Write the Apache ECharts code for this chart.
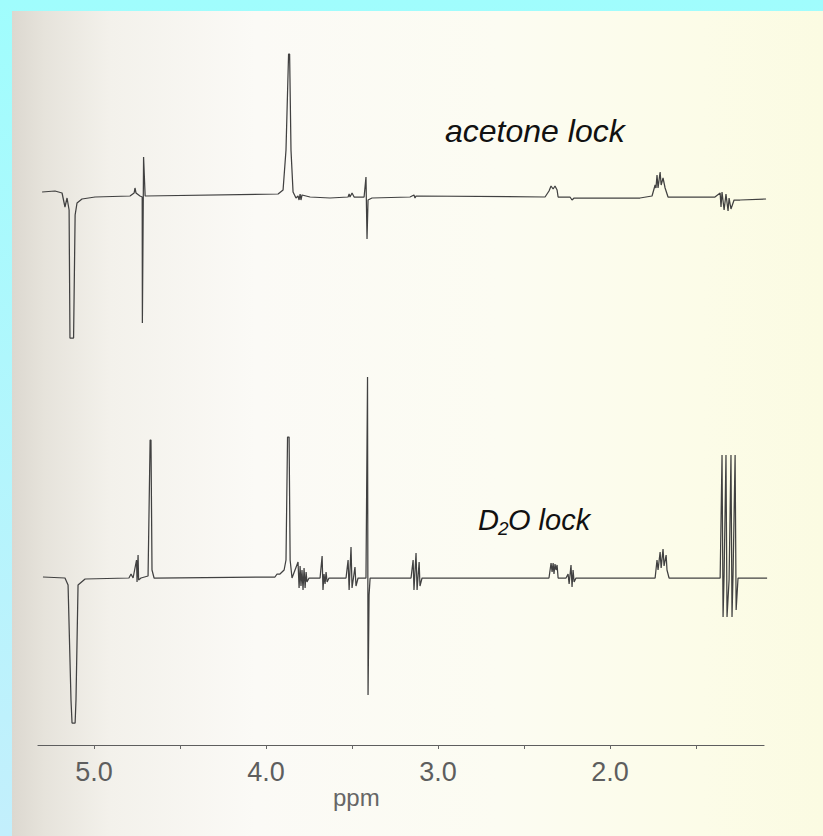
<!DOCTYPE html>
<html>
<head>
<meta charset="utf-8">
<script src="https://cdn.jsdelivr.net/npm/echarts@6/dist/echarts.min.js"></script>
<style>
html,body{margin:0;padding:0;background:#a3fcfd;}
#c{width:823px;height:836px;}
</style>
</head>
<body>
<div id="c"></div>
<script>
// ---- data (ppm, relative intensity) ----
var acetoneLock = [
[5.302,4],[5.227,5],[5.186,3],[5.169,-11],[5.157,-2],[5.145,-14],[5.140,-142],[5.119,-142],[5.110,-19],[5.099,-7],[5.070,-3],[4.994,-1],
[4.791,0],[4.767,3],[4.762,8],[4.756,3],[4.733,0],[4.720,-1],[4.719,-127],[4.712,39],[4.703,0],
[3.930,2],[3.901,6],[3.884,46],[3.869,142],[3.863,142],[3.855,46],[3.843,4],[3.826,-2],[3.814,0],[3.808,-4],[3.802,2],[3.797,-4],[3.791,1],[3.744,-1],
[3.628,-2],[3.523,-1],[3.517,2],[3.512,-1],[3.500,3],[3.488,-1],[3.430,-1],[3.419,19],[3.413,-43],[3.407,-4],[3.384,-2],
[3.163,-1],[3.140,1],[3.134,-2],[3.128,0],
[2.378,-1],[2.355,5],[2.343,10],[2.331,7],[2.320,10],[2.308,6],[2.302,-1],[2.233,-1],[2.221,-4],[2.209,-2],
[1.826,-2],[1.756,0],[1.738,11],[1.733,8],[1.727,21],[1.721,8],[1.709,24],[1.703,11],[1.692,18],[1.680,8],[1.663,-1],
[1.390,-1],[1.360,3],[1.355,-11],[1.349,4],[1.337,-14],[1.326,2],[1.314,-15],[1.308,-2],[1.297,-13],[1.279,-4],[1.244,-4],[1.093,-3]
];
var d2oLock = [
[5.297,1],[5.169,0],[5.151,-7],[5.134,-122],[5.128,-145],[5.110,-145],[5.105,-122],[5.093,-7],[5.052,-1],
[4.797,0],[4.785,4],[4.773,0],[4.753,18],[4.750,-4],[4.744,23],[4.741,-2],[4.727,0],[4.686,2],[4.674,138],[4.669,138],[4.663,8],[4.651,0],
[3.948,1],[3.936,4],[3.919,4],[3.907,6],[3.895,8],[3.884,18],[3.875,141],[3.866,141],[3.860,18],[3.849,0],
[3.814,16],[3.808,-10],[3.802,12],[3.797,-8],[3.791,8],[3.785,-12],[3.779,10],[3.773,-10],[3.767,6],[3.762,-4],[3.750,0],
[3.686,0],[3.674,22],[3.669,-12],[3.663,4],[3.657,-6],[3.651,6],[3.645,-4],[3.634,0],
[3.535,0],[3.523,18],[3.517,-12],[3.506,31],[3.500,-10],[3.483,11],[3.477,-8],[3.465,0],
[3.419,0],[3.410,201],[3.407,-117],[3.401,-17],[3.395,0],
[3.157,0],[3.145,18],[3.140,-12],[3.128,25],[3.122,-12],[3.110,16],[3.105,-8],[3.093,0],
[2.355,0],[2.343,15],[2.337,6],[2.331,15],[2.326,4],[2.320,14],[2.314,8],[2.308,13],[2.302,0],
[2.256,0],[2.244,4],[2.238,-6],[2.227,13],[2.221,-9],[2.215,8],[2.209,-4],[2.198,0],
[1.738,0],[1.727,18],[1.721,8],[1.709,26],[1.703,10],[1.692,29],[1.686,12],[1.674,23],[1.669,8],[1.657,0],
[1.360,0],[1.349,123],[1.343,-39],[1.337,3],[1.326,123],[1.320,-39],[1.308,-2],[1.297,123],[1.291,-39],[1.285,3],[1.273,123],[1.267,-32],[1.256,0],
[1.087,0]
];
var tickValues = [5.0,4.5,4.0,3.5,3.0,2.5,2.0,1.5];
var labelValues = [5.0,4.0,3.0,2.0];
var axisName = 'ppm';
var upperLabel = 'acetone lock';
var lowerLabelParts = ['D', '2', 'O lock'];

var chart = echarts.init(document.getElementById('c'), null, {renderer:'svg'});
var lineStyle = {color:'#414141', width:1.25};
var specX = {type:'value', inverse:true, min:1.08, max:5.32, show:false};
var labelFont = {fontFamily:'Liberation Sans', fontStyle:'italic', fontWeight:'normal', fill:'#111'};
var option = {
  animation:false,
  backgroundColor:'transparent',
  graphic:[
    {type:'rect', z:-20, shape:{x:0,y:0,width:823,height:836}, silent:true,
     style:{fill:new echarts.graphic.LinearGradient(0,0,0,1,[{offset:0,color:'#a0fdfd'},{offset:1,color:'#c3effc'}])}},
    {type:'rect', z:-19, shape:{x:12,y:11,width:811,height:825}, silent:true,
     style:{fill:new echarts.graphic.LinearGradient(0,0,1,0,[
       {offset:0,color:'#dcd8d0'},{offset:0.04,color:'#e6e3db'},{offset:0.12,color:'#f3f1eb'},
       {offset:0.3,color:'#fbfaf6'},{offset:0.6,color:'#fcfcf2'},{offset:0.85,color:'#fcfce8'},{offset:1,color:'#fbfbe2'}])}},
    {type:'text', z:10, x:445, y:131, silent:true,
     style:Object.assign({text:upperLabel, fontSize:32, verticalAlign:'middle'}, labelFont)},
    {type:'text', z:10, x:478, y:520, silent:true,
     style:Object.assign({text:lowerLabelParts[0], fontSize:29, verticalAlign:'middle'}, labelFont)},
    {type:'text', z:10, x:498, y:528, silent:true,
     style:Object.assign({text:lowerLabelParts[1], fontSize:19, verticalAlign:'middle'}, labelFont)},
    {type:'text', z:10, x:508, y:520, silent:true,
     style:Object.assign({text:lowerLabelParts[2], fontSize:29, verticalAlign:'middle'}, labelFont)},
    {type:'text', z:10, x:333, y:797, silent:true,
     style:{text:axisName, fontFamily:'Liberation Sans', fontSize:24, fill:'#666', verticalAlign:'middle'}}
  ],
  grid:[
    {left:39, right:54.7, top:46, height:300},
    {left:39, right:54.7, top:368, height:360},
    {left:38, right:59, top:700, height:45}
  ],
  xAxis:[
    Object.assign({gridIndex:0}, specX),
    Object.assign({gridIndex:1}, specX),
    {gridIndex:2, type:'value', inverse:true, min:1.105, max:5.326, position:'bottom',
     axisLine:{show:true, lineStyle:{color:'#5e5e5e', width:1.2}},
     axisTick:{show:true, customValues:tickValues, length:4, lineStyle:{color:'#666', width:1}},
     axisLabel:{show:true, customValues:labelValues, margin:13, fontFamily:'Liberation Sans', fontSize:27, color:'#5e5e5e',
       formatter:function(v){return Number(v).toFixed(1);}},
     splitLine:{show:false}}
  ],
  yAxis:[
    {gridIndex:0, type:'value', min:-150, max:150, show:false},
    {gridIndex:1, type:'value', min:-150, max:210, show:false},
    {gridIndex:2, type:'value', min:0, max:1, show:false}
  ],
  series:[
    {type:'line', xAxisIndex:0, yAxisIndex:0, data:acetoneLock, showSymbol:false, symbol:'none', lineStyle:lineStyle, z:5},
    {type:'line', xAxisIndex:1, yAxisIndex:1, data:d2oLock, showSymbol:false, symbol:'none', lineStyle:lineStyle, z:5}
  ]
};
chart.setOption(option);
</script>
</body>
</html>
